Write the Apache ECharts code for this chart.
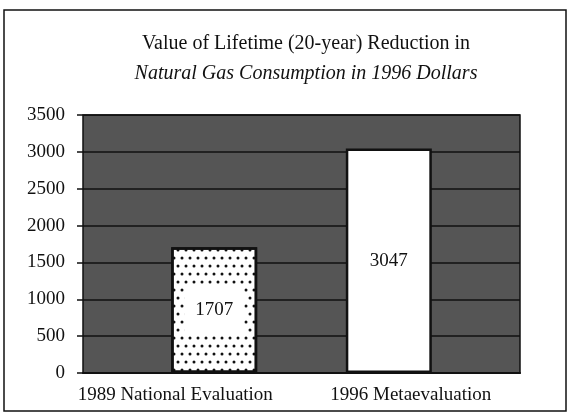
<!DOCTYPE html>
<html>
<head>
<meta charset="utf-8">
<script src="https://cdn.jsdelivr.net/npm/echarts@6/dist/echarts.min.js"></script>
<style>
  html, body { margin: 0; padding: 0; background: #fff; }
  #chart { width: 569px; height: 415px; }
</style>
</head>
<body>
<div id="chart"></div>
<script>
// data
const categories = ['1989 National Evaluation', '1996 Metaevaluation'];
const nationalValues = [1707, '-'];
const metaValues = ['-', 3047];
const yTicks = { min: 0, max: 3500, interval: 500 };

const serif = '"Liberation Serif", "Times New Roman", serif';

const chart = echarts.init(document.getElementById('chart'));

const option = {
    animation: false,
    backgroundColor: '#fff',
    title: [
        {
            text: 'Value of Lifetime (20-year) Reduction in',
            left: 301, top: 29, textAlign: 'center',
            textStyle: { fontFamily: serif, fontSize: 20, fontWeight: 'normal', color: '#111' }
        },
        {
            text: 'Natural Gas Consumption in 1996 Dollars',
            left: 301, top: 59, textAlign: 'center',
            textStyle: { fontFamily: serif, fontSize: 20, fontWeight: 'normal', fontStyle: 'italic', color: '#111' }
        }
    ],
    graphic: [{
        type: 'rect',
        shape: { x: 4, y: 10, width: 562, height: 401 },
        style: { fill: 'none', stroke: '#111', lineWidth: 1.5 },
        silent: true
    }],
    grid: {
        left: 83, right: 49, top: 115, bottom: 42,
        show: true,
        backgroundColor: '#555555',
        borderColor: '#111',
        borderWidth: 1.5
    },
    xAxis: {
        type: 'category',
        data: categories,
        axisLine: { lineStyle: { color: '#111', width: 2 } },
        axisTick: { show: false },
        axisLabel: {
            interval: 0,
            margin: 13,
            fontFamily: serif, fontSize: 19, color: '#111',
            formatter: (v, i) => i === 0 ? '{a|' + v + '}' : v,
            rich: { a: { fontFamily: serif, fontSize: 19, color: '#111', padding: [0, 34, 0, 0] } }
        }
    },
    yAxis: {
        type: 'value',
        min: yTicks.min, max: yTicks.max, interval: yTicks.interval,
        axisLine: { show: false },
        axisTick: { show: true, length: 6, lineStyle: { color: '#111', width: 1.5 } },
        axisLabel: {
            margin: 18, fontFamily: serif, fontSize: 19, color: '#111',
            formatter: v => String(v)
        },
        splitLine: { lineStyle: { color: '#111', width: 1.5 } }
    },
    series: [
        {
            // drawn in the left slot of each category
            name: 'meta',
            type: 'bar',
            data: metaValues,
            barWidth: 86,
            barGap: '-49%',
            itemStyle: { color: '#fff', borderColor: '#111', borderWidth: 2.5 },
            label: {
                show: true, position: 'inside',
                fontFamily: serif, fontSize: 19, color: '#111'
            }
        },
        {
            name: 'national',
            type: 'bar',
            data: nationalValues,
            barWidth: 86,
            itemStyle: {
                color: '#fff', borderColor: '#111', borderWidth: 2.5,
                decal: {
                    symbol: 'circle',
                    symbolSize: 0.75,
                    color: '#111',
                    dashArrayX: [[4, 4], [0, 4, 4, 0]],
                    dashArrayY: [4, 4]
                }
            },
            label: {
                show: true, position: 'inside',
                fontFamily: serif, fontSize: 19, color: '#111',
                backgroundColor: '#fff',
                padding: [15, 11]
            }
        }
    ]
};

chart.setOption(option);
window.addEventListener('resize', () => chart.resize());
</script>
</body>
</html>
